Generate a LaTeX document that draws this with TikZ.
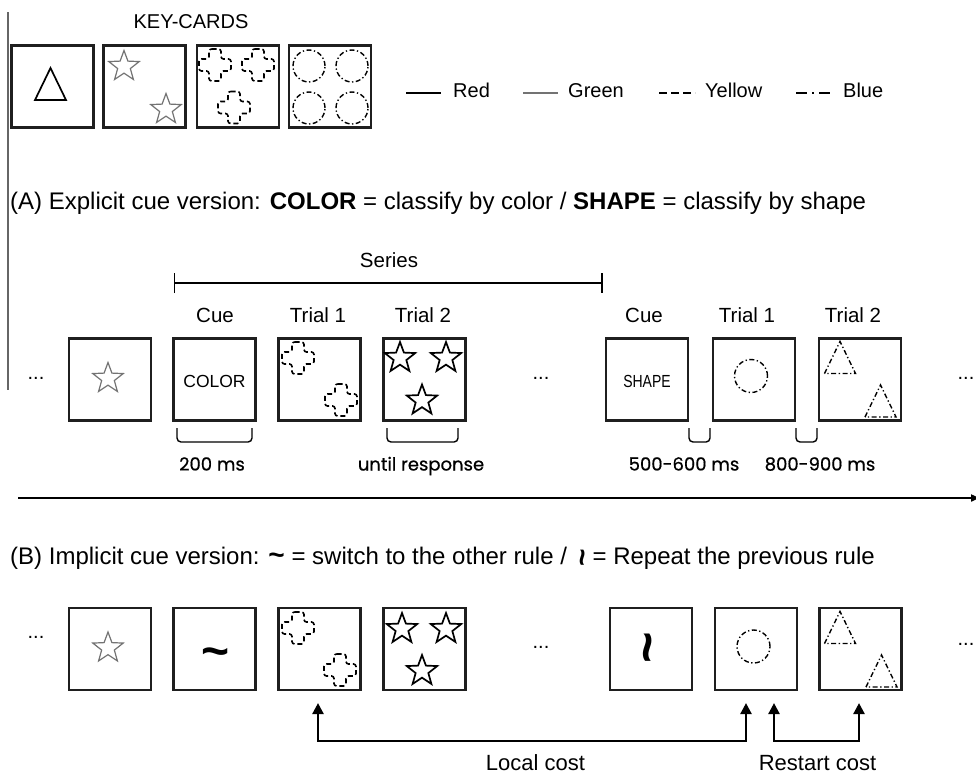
\documentclass[tikz,border=0pt]{standalone}
\usepackage{fontspec}
\setmainfont{Liberation Sans}
\newfontfamily\roundfont[FakeBold=0.6]{Poppins}
\usetikzlibrary{shapes.geometric,arrows.meta,calc}
\newcommand{\fsz}[1]{\fontsize{#1}{#1}\selectfont}
\newcommand{\vtilde}{\rotatebox{90}{\textbf{\textasciitilde}}}
\begin{document}
\begin{tikzpicture}[x=1pt,y=-1pt,
 card/.style={draw=black!88,line width=2.1pt,minimum width=82pt,minimum height=82pt,inner sep=0pt},
 redl/.style={draw=black,line width=1.7pt},
 greenl/.style={draw=black!55,line width=1.2pt},
 yellowl/.style={draw=black,line width=1.6pt,dash pattern=on 5pt off 3pt},
 bluel/.style={draw=black,line width=1.4pt,dash pattern=on 5pt off 2.5pt on 1.3pt off 2.5pt},
 starn/.style={star,star points=5,star point ratio=2.4,minimum size=32pt,inner sep=0pt},
 circn/.style={circle,minimum size=32pt,inner sep=0pt},
 txt/.style={inner sep=0pt,anchor=base},
 lab/.style={txt,font=\fsz{20.5}},
 legtxt/.style={txt,anchor=base west,font=\fsz{20}},
 hdr/.style={txt,anchor=base west,font=\fsz{24}},
 msl/.style={txt,font=\roundfont\fsz{18}},
 dots/.style={txt,font=\fsz{20}},
 brk/.style={line width=1.4pt,rounded corners=4pt},
 costarr/.style={line width=2.4pt,{Triangle[width=11pt,length=11pt]}-{Triangle[width=11pt,length=11pt]}},
 pics/crossp/.style={code={\draw[yellowl,rounded corners=2.5pt] (-6,-16) -- (6,-16) -- (6,-6) -- (16,-6) -- (16,6) -- (6,6) -- (6,16) -- (-6,16) -- (-6,6) -- (-16,6) -- (-16,-6) -- (-6,-6) -- cycle;}},
 pics/trip/.style={code={\draw[#1] (-15.5,16) -- (0,-16) -- (15.5,16) -- cycle;}}
]
\useasboundingbox (0,0) rectangle (976,774);
\fill[white] (0,0) rectangle (976,774);

% left margin rule
\draw[black!60,line width=1.2pt] (8,12) -- (8,390);

% ---------- key cards ----------
\node[txt,font=\fsz{20}] (kctitle) at (191,28) {KEY-CARDS};
\node[card] (k1) at (52.5,86.5) {};
\node[card] (k2) at (144.5,86.5) {};
\node[card] (k3) at (238,86.5) {};
\node[card] (k4) at (330,86.5) {};
\pic at (50.5,84) {trip=redl};
\node[starn,greenl] (k2s1) at (124,66.5) {};
\node[starn,greenl] (k2s2) at (166,109.5) {};
\pic at (215,65) {crossp};
\pic at (258,65) {crossp};
\pic at (234,107.5) {crossp};
\node[circn,bluel] (k4c1) at (309,66) {};
\node[circn,bluel] (k4c2) at (352,66) {};
\node[circn,bluel] (k4c3) at (309,108) {};
\node[circn,bluel] (k4c4) at (352,108) {};

% legend
\draw[redl] (406,93) -- (441,93);
\node[legtxt] (lgr) at (453,97) {Red};
\draw[greenl] (523,93) -- (558,93);
\node[legtxt] (lgg) at (568,97) {Green};
\draw[yellowl,dash pattern=on 8pt off 4pt] (659,93) -- (695,93);
\node[legtxt] (lgy) at (705,97) {Yellow};
\draw[bluel,dash pattern=on 11pt off 5pt on 2pt off 5pt] (796,93) -- (833,93);
\node[legtxt] (lgb) at (843,97) {Blue};

% ---------- (A) ----------
\node[hdr] (ha) at (10,209) {(A) Explicit cue version: \textbf{COLOR} = classify by color / \textbf{SHAPE} = classify by shape};
\node[lab] (series) at (389,267) {Series};
\coordinate (s0) at (173.5,283);
\coordinate (s1) at (602.5,283);
\draw[line width=1.6pt,{Bar[width=20pt]}-{Bar[width=20pt]}] (s0) -- (s1);

\node[lab] (la2) at (215,322) {Cue};
\node[lab] (la3) at (318,322) {Trial 1};
\node[lab] (la4) at (423,322) {Trial 2};
\node[lab] (la5) at (644,322) {Cue};
\node[lab] (la6) at (747,322) {Trial 1};
\node[lab] (la7) at (853,322) {Trial 2};

\node[dots] (da1) at (36,379) {...};
\node[dots] (da2) at (541,379) {...};
\node[dots] (da3) at (966,379) {...};

\node[card] (a1) at (110,379.5) {};
\node[card] (a2) at (214.5,379.5) {};
\node[card] (a3) at (319.5,379.5) {};
\node[card] (a4) at (424.5,379.5) {};
\node[card] (a5) at (647,379.5) {};
\node[card] (a6) at (754,379.5) {};
\node[card] (a7) at (860,379.5) {};

\node[starn,greenl] (a1s) at (108,378.5) {};
\node[txt,font=\fsz{17.5}] (colortxt) at (214.5,387) {COLOR};
\pic at (298,358) {crossp};
\pic at (341,400) {crossp};
\node[starn,redl] (a4s1) at (400,358) {};
\node[starn,redl] (a4s2) at (446,358) {};
\node[starn,redl] (a4s3) at (422,400.5) {};
\node[txt,font=\fsz{17.5}] (shapetxt) at (647,387) {\scalebox{0.8}[1]{SHAPE}};
\node[circn,bluel,minimum size=33pt] (a6c) at (751,376) {};
\pic at (840,357.5) {trip=bluel};
\pic at (880.5,401) {trip=bluel};

% timing brackets
\draw[brk] (177,428) -- (177,442) -- (252,442) -- (252,428);
\draw[brk] (387,428) -- (387,442) -- (458,442) -- (458,428);
\draw[brk] (689,428) -- (689,442) -- (710,442) -- (710,428);
\draw[brk] (796,428) -- (796,442) -- (817,442) -- (817,428);
\node[msl] (t200) at (212,470.5) {200 ms};
\node[msl] (tresp) at (421,470.5) {until response};
\node[msl] (t500) at (684,470.5) {500-600 ms};
\node[msl] (t800) at (820,470.5) {800-900 ms};

% time axis
\coordinate (tx0) at (18,498);
\coordinate (tx1) at (981,498);
\draw[line width=1.6pt,-{Latex[length=10pt,width=8pt]}] (tx0) -- (tx1);

% ---------- (B) ----------
\node[hdr] (hb) at (10,564) {(B) Implicit cue version: {\fontsize{28}{28}\selectfont\textbf{\textasciitilde}} = switch to the other rule /\ \ {\fontsize{30}{30}\selectfont\raisebox{-2pt}{\vtilde}}= Repeat the previous rule};

\node[dots] (db1) at (36,638.5) {...};
\node[dots] (db2) at (541,648.5) {...};
\node[dots] (db3) at (966,645.5) {...};

\node[card] (b1) at (110,649) {};
\node[card] (b2) at (214.5,649) {};
\node[card] (b3) at (319.5,649) {};
\node[card] (b4) at (424.5,649) {};
\node[card] (b5) at (651,649) {};
\node[card] (b6) at (756,649) {};
\node[card] (b7) at (860.5,649) {};

\node[starn,greenl] (b1s) at (108,648) {};
\node[txt,font=\bfseries\fsz{48}] (tildetxt) at (216,667) {\textasciitilde};
\pic at (298,628) {crossp};
\pic at (340,670) {crossp};
\node[starn,redl] (b4s1) at (402,629) {};
\node[starn,redl] (b4s2) at (446,629) {};
\node[starn,redl] (b4s3) at (422,671) {};
\node[inner sep=0pt,font=\fsz{54}] (wrtxt) at (654,648) {\vtilde};
\node[circn,bluel,minimum size=33pt] (b6c) at (753.5,646.5) {};
\pic at (840,627.5) {trip=bluel};
\pic at (881.5,671) {trip=bluel};

% cost arrows
\coordinate (lc1) at ($(b3.south)+(-1.5,12)$);
\coordinate (lc2) at ($(b6.south)+(-10,12)$);
\coordinate (rc1) at ($(b6.south)+(18,12)$);
\coordinate (rc2) at ($(b7.south)+(-1.5,12)$);
\draw[costarr] (lc1) |- ($(lc2)+(0,38)$) -- (lc2);
\draw[costarr] (rc1) |- ($(rc2)+(0,38)$) -- (rc2);
\node[txt,font=\fsz{22}] (lcost) at (535.5,770) {Local cost};
\node[txt,font=\fsz{22}] (rcost) at (817.5,770) {Restart cost};
\end{tikzpicture}
\end{document}
